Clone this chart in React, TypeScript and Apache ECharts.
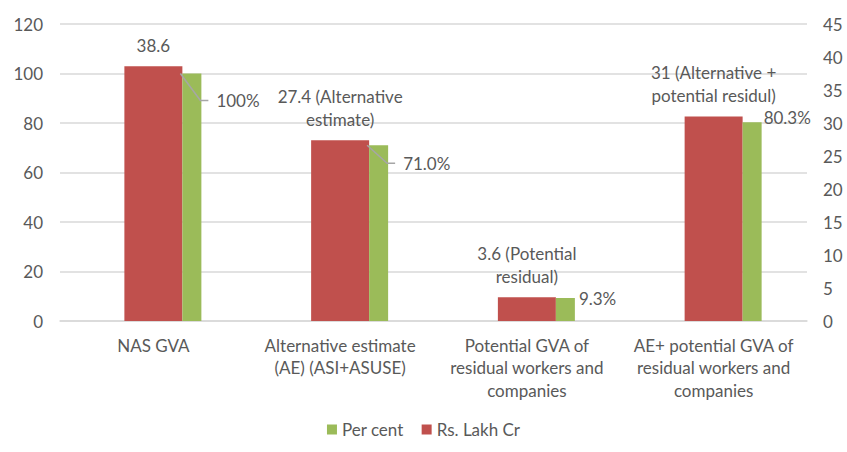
import React, { useEffect, useRef } from 'react';
import * as echarts from 'echarts';

const categories = [
    'NAS GVA',
    'Alternative estimate\n(AE) (ASI+ASUSE)',
    'Potential GVA of\nresidual workers and\ncompanies',
    'AE+ potential GVA of\nresidual workers and\ncompanies',
];

// Rs. Lakh Cr (right axis)
const lakhCr = [38.6, 27.4, 3.6, 31];
const lakhCrLabels = [
    '38.6',
    '27.4 (Alternative\nestimate)',
    '3.6 (Potential\nresidual)',
    '31 (Alternative +\npotential residul)',
];

// Per cent (left axis)
const perCent = [100, 71.0, 9.3, 80.3];
const perCentLabels = ['100%', '71.0%', '9.3%', '80.3%'];

const leftTicks = { min: 0, max: 120, interval: 20 };
const rightTicks = { min: 0, max: 45, interval: 5 };

const FONT = 'Lato';
const FS = 17;
const TEXT = '#595959';
const GRID = '#d9d9d9';
const RED = '#c0504d';
const GREEN = '#9bbb59';
const LEADER = '#a6a6a6';

const RED_W = 58;
const GREEN_W = 19;
// how far below the bar top the leader-lined labels sit (0 = no leader)
const leaderDrop = [27, 18, 0, 0];

const App = () => {
    const chartRef = useRef<HTMLDivElement>(null);

    useEffect(() => {
        if (!chartRef.current) return;
        const chart = echarts.init(chartRef.current, null, { renderer: 'svg' });

        const option = {
            animation: false,
            textStyle: { fontFamily: FONT, color: TEXT },
            grid: { left: 60, right: 40, top: 24, bottom: 131 },
            legend: {
                data: ['Per cent', 'Rs. Lakh Cr'],
                bottom: 9,
                left: 'center',
                itemWidth: 10,
                itemHeight: 10,
                itemGap: 18,
                icon: 'rect',
                textStyle: { fontFamily: FONT, fontSize: FS, color: TEXT },
            },
            xAxis: {
                type: 'category',
                data: categories,
                axisLine: { lineStyle: { color: GRID, width: 1.5 } },
                axisTick: { show: false },
                axisLabel: {
                    interval: 0,
                    margin: 13,
                    fontFamily: FONT,
                    fontSize: FS,
                    lineHeight: 22.5,
                    color: TEXT,
                },
            },
            yAxis: [
                {
                    type: 'value',
                    ...leftTicks,
                    axisLine: { show: false },
                    axisTick: { show: false },
                    splitLine: { lineStyle: { color: GRID, width: 1.5 } },
                    axisLabel: { margin: 17, fontFamily: FONT, fontSize: FS, color: TEXT },
                },
                {
                    type: 'value',
                    ...rightTicks,
                    axisLine: { show: false },
                    axisTick: { show: false },
                    splitLine: { show: false },
                    axisLabel: { margin: 16, fontFamily: FONT, fontSize: FS, color: TEXT },
                },
            ],
            series: [
                {
                    // empty spacer so the red bar sits centred on its category
                    name: 'spacer',
                    type: 'bar',
                    barWidth: GREEN_W,
                    barGap: 0,
                    data: categories.map(() => null),
                    itemStyle: { color: 'transparent' },
                    silent: true,
                },
                {
                    name: 'Rs. Lakh Cr',
                    type: 'bar',
                    yAxisIndex: 1,
                    barWidth: RED_W,
                    barGap: 0,
                    data: lakhCr,
                    itemStyle: { color: RED },
                    label: {
                        show: true,
                        position: 'top',
                        distance: 9,
                        fontFamily: FONT,
                        fontSize: FS,
                        lineHeight: 23,
                        color: TEXT,
                        formatter: (p: any) => lakhCrLabels[p.dataIndex],
                    },
                },
                {
                    name: 'Per cent',
                    type: 'bar',
                    yAxisIndex: 0,
                    barWidth: GREEN_W,
                    barGap: 0,
                    data: perCent,
                    itemStyle: { color: GREEN },
                    label: {
                        show: true,
                        position: 'right',
                        fontFamily: FONT,
                        fontSize: FS,
                        color: TEXT,
                        formatter: (p: any) => perCentLabels[p.dataIndex],
                    },
                    labelLayout: (p: any) => {
                        const r = p.rect;
                        const drop = leaderDrop[p.dataIndex];
                        if (drop) {
                            return { x: r.x + 34, y: r.y + drop, align: 'left', verticalAlign: 'middle' };
                        }
                        return {
                            x: r.x + r.width + (p.dataIndex === 2 ? 4 : 2),
                            y: r.y + (p.dataIndex === 2 ? 1 : -5),
                            align: 'left',
                            verticalAlign: 'middle',
                        };
                    },
                },
                {
                    // leader lines for the green labels, drawn over the bars
                    name: 'leaders',
                    type: 'custom',
                    yAxisIndex: 0,
                    silent: true,
                    z: 10,
                    data: perCent.map((v, i) => [i, v]),
                    encode: { x: 0, y: 1 },
                    renderItem: (params: any, api: any) => {
                        const i = params.dataIndex;
                        const drop = leaderDrop[i];
                        if (!drop) return null;
                        const pt = api.coord([api.value(0), api.value(1)]);
                        const x0 = pt[0] + RED_W / 2;
                        const y0 = pt[1];
                        return {
                            type: 'polyline',
                            shape: {
                                points: [
                                    [x0 - 2, y0],
                                    [x0 + 18, y0 + drop],
                                    [x0 + 26, y0 + drop],
                                ],
                            },
                            style: { stroke: LEADER, lineWidth: 1.5, fill: null },
                        };
                    },
                },
            ],
        };

        chart.setOption(option);

        const handleResize = () => chart.resize();
        window.addEventListener('resize', handleResize);
        return () => {
            window.removeEventListener('resize', handleResize);
            chart.dispose();
        };
    }, []);

    return (
        <div
            ref={chartRef}
            style={{ position: 'fixed', left: 0, top: 0, width: '847px', height: '452px', background: '#fff' }}
        />
    );
};

export default App;
